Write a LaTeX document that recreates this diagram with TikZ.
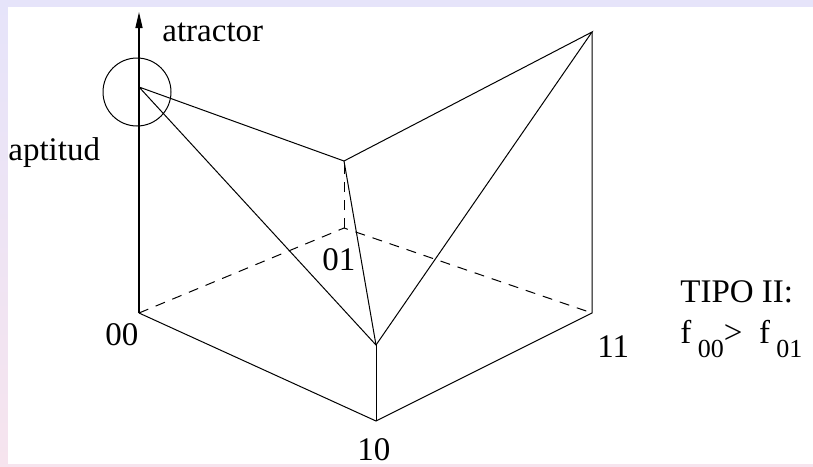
\documentclass[tikz,border=0pt]{standalone}
\usepackage{fontspec}
\setmainfont{Liberation Serif}
\usetikzlibrary{arrows.meta}
\definecolor{lavanda}{HTML}{E6E4FA}
\definecolor{rosado}{HTML}{F6E4EE}

\begin{document}
\begin{tikzpicture}[x=0.5pt,y=-0.5pt,
    etiq/.style={inner sep=0pt,anchor=base west,font=\fontsize{16.5}{19}\selectfont},
    arista/.style={line width=0.5pt},
    oculta/.style={line width=0.5pt,dash pattern=on 5pt off 4pt}]
                \useasboundingbox (0,0) rectangle (813,466);
                \shade[top color=lavanda,bottom color=rosado] (0,0) rectangle (813,466);
                \fill[lavanda] (0,0) rectangle (813,7);
                \fill[white] (8,7) rectangle (813,464);
                % vertices del cubo
                \coordinate (b00) at (139,313);
                \coordinate (b10) at (376,421);
                \coordinate (b11) at (592,313);
                \coordinate (b01) at (344,228);
                \coordinate (t00) at (139,87);
                \coordinate (t10) at (376,345);
                \coordinate (t11) at (592,32);
                \coordinate (t01) at (344,161);
                \coordinate (tope) at (139,12);
                \draw[line width=0.7pt,-{Triangle[length=8pt,width=3.5pt]}] (b00) -- (tope);
                \draw[arista] (137,92) circle (34);
                \draw[arista] (b00) -- (b10) -- (b11) -- (t11);
                \draw[arista] (b10) -- (t10);
                \draw[oculta] (b00) -- (b01) -- (b11);
                \draw[oculta] (b01) -- (t01);
                \draw[arista] (t00) -- (t01) -- (t11) -- (t10) -- (t00);
                \draw[arista] (t01) -- (t10);
                \node[etiq] (atr) at (162,41) {atractor};
                \node[etiq] (apt) at (8,160) {aptitud};
                \node[etiq] (l00) at (105,345) {00};
                \node[etiq] (l01) at (322,270) {01};
                \node[etiq] (l10) at (357,460) {10};
                \node[etiq] (l11) at (597,357) {11};
                \node[etiq] (tipo) at (680,302) {TIPO II:};
                \node[etiq] (desig) at (680,343) {f\raisebox{-7pt}{\fontsize{13}{13}\selectfont\ 00}>\ \ f\raisebox{-7pt}{\fontsize{13}{13}\selectfont\ 01}};
            \end{tikzpicture}
\end{document}
